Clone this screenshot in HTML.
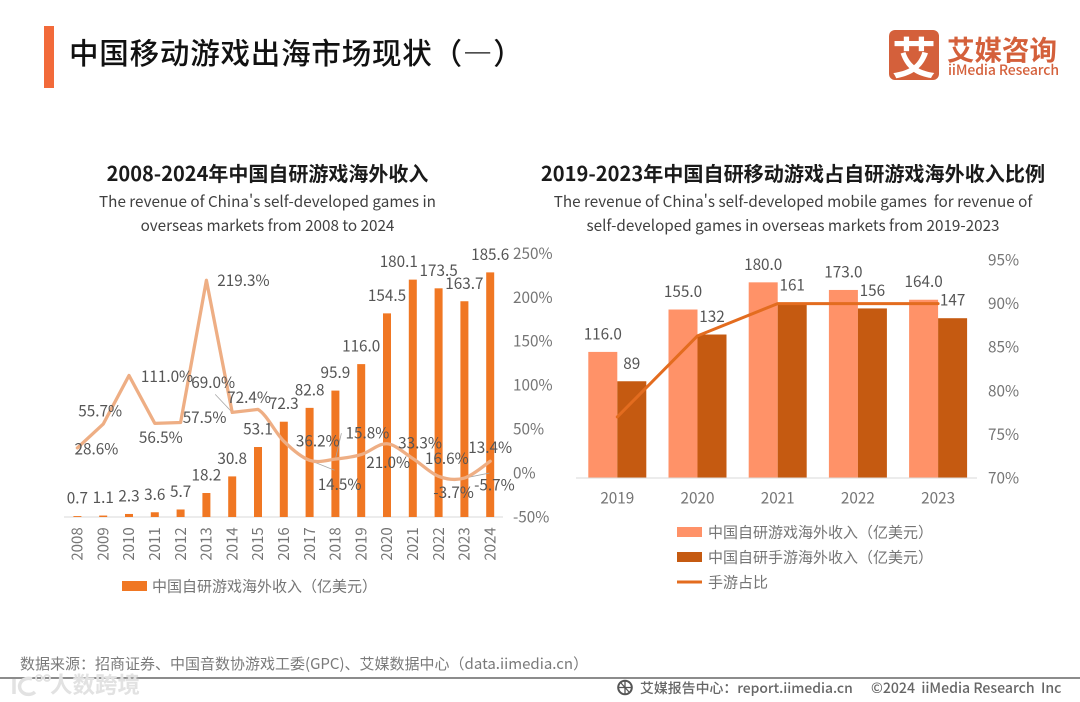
<!DOCTYPE html>
<html lang="zh">
<head>
<meta charset="utf-8">
<title>中国移动游戏出海市场现状（一）</title>
<style>
html,body{margin:0;padding:0;background:#fff;}
#page{position:relative;width:1080px;height:702px;overflow:hidden;background:#fff;font-family:"Noto Sans CJK SC","Liberation Sans",sans-serif;}
#page div{position:absolute;white-space:pre;}
svg{position:absolute;left:0;top:0;}
svg text{font-family:"Noto Sans CJK SC","Liberation Sans",sans-serif;}
</style>
</head>
<body>
<div id="page">
  <div style="left:44px;top:26px;width:10px;height:62px;background:#F26A3A;"></div>
  <div style="left:69px;top:31px;font-size:29.5px;line-height:42px;font-weight:500;color:#111;letter-spacing:0.8px;">中国移动游戏出海市场现状（—）</div>

  <div style="left:889px;top:30px;width:50px;height:50px;border-radius:6px;background:#D4603B;color:#fff;font-size:44px;line-height:50px;font-weight:700;text-align:center;">艾</div>
  <div style="left:947px;top:28px;font-size:27.5px;line-height:40px;font-weight:700;color:#D4603B;">艾媒咨询</div>
  <div style="left:948px;top:60px;font-size:14px;line-height:20px;font-weight:500;color:#D4603B;letter-spacing:-0.1px;">iiMedia Research</div>

  <div style="left:0;top:158px;width:535px;text-align:center;font-size:20px;line-height:30px;font-weight:700;color:#1a1a1a;">2008-2024年中国自研游戏海外收入</div>
  <div style="left:0;top:189px;width:535px;text-align:center;font-size:15.25px;line-height:24px;color:#404040;">The revenue of China's self-developed games in
overseas markets from 2008 to 2024</div>
  <div style="left:493px;top:158px;width:600px;text-align:center;font-size:20.1px;line-height:30px;font-weight:700;color:#1a1a1a;">2019-2023年中国自研移动游戏占自研游戏海外收入比例</div>
  <div style="left:493px;top:189px;width:600px;text-align:center;font-size:15.25px;line-height:24px;color:#404040;">The revenue of China's self-developed mobile games  for revenue of
self-developed games in overseas markets from 2019-2023</div>

  <svg id="chart" width="1080" height="702" viewBox="0 0 1080 702"></svg>

  <div style="left:20px;top:654px;font-size:15px;line-height:20px;color:#7a7a7a;">数据来源：招商证券、中国音数协游戏工委(GPC)、艾媒数据中心（data.iimedia.cn）</div>
  <div style="left:0;top:677px;width:1080px;height:2px;background:#8c8c8c;"></div>
  <svg width="46" height="26" viewBox="0 0 46 26" style="left:8px;top:672px;">
    <path d="M6 7V22M24 7a9 8 0 1 0 3 13" fill="none" stroke="#e2e2e2" stroke-width="3.500"></path>
    <circle cx="31" cy="6" r="3" fill="none" stroke="#e2e2e2" stroke-width="1.800"></circle>
    <circle cx="39" cy="6" r="3" fill="none" stroke="#e2e2e2" stroke-width="1.800"></circle>
  </svg>
  <div style="left:50px;top:671px;font-size:22.5px;line-height:26px;font-weight:700;color:#e2e2e2;text-shadow:0 0 1px #fff;">人数跨境</div>
  <svg width="20" height="20" viewBox="0 0 20 20" style="left:616px;top:678px;">
    <circle cx="9" cy="9.500" r="6.800" fill="none" stroke="#555" stroke-width="2"></circle>
    <path d="M2.500 9.500H15M9 3V16M5 5l8 9" fill="none" stroke="#555" stroke-width="1.300"></path>
  </svg>
  <div style="left:640px;top:678px;font-size:13.9px;line-height:20px;font-weight:500;color:#666;">艾媒报告中心：report.iimedia.cn</div>
  <div style="left:871px;top:678px;font-size:14.1px;line-height:20px;font-weight:500;color:#666;">©2024  iiMedia Research  Inc</div>
</div>

<script>
const leftYears = ['2008','2009','2010','2011','2012','2013','2014','2015','2016','2017','2018','2019','2020','2021','2022','2023','2024'];
const leftRevenue = [0.7,1.1,2.3,3.6,5.7,18.2,30.8,53.1,72.3,82.8,95.9,116.0,154.5,180.1,173.5,163.7,185.6];
const leftGrowth = [28.6,55.7,111.0,56.5,57.5,219.3,69.0,72.4,36.2,14.5,15.8,21.0,33.3,16.6,-3.7,-5.7,13.4];
const leftGrowthTicks = [-50,0,50,100,150,200,250];

const rightYears = ['2019','2020','2021','2022','2023'];
const rightTotal = [116.0,155.0,180.0,173.0,164.0];
const rightMobile = [89,132,161,156,147];
const rightShare = [77.0,86.3,90.0,90.0,90.0];
const rightShareTicks = [70,75,80,85,90,95];

/* label nudges relative to each mark (layout, not data) */
const growthLabelNudge = [[19,1],[-3,-13],[38,1],[6,14],[24,-5],[37,0],[-19,-30],[-9,-12],[34,0],[30,24],[32,-26],[27,8],[33,-1],[34,0],[15,16],[30,7],[0,-14]];

const svg = document.getElementById('chart');
const NS = 'http://www.w3.org/2000/svg';
function make(tag, props, parent) {
  const el = document.createElementNS(NS, tag);
  for (const k in props) el.setAttribute(k, props[k]);
  (parent || svg).appendChild(el);
  return el;
}
function write(x, y, str, size, fill, anchor) {
  const t = make('text', {x: x, y: y + size * 0.36, 'font-size': size, fill: fill, 'text-anchor': anchor || 'middle'});
  t.textContent = str;
  return t;
}

/* ---------- left chart axes ---------- */
const L_BASE = 517;
const leftX = i => 77.4 + i * 25.8;
const leftBarY = v => L_BASE - v * 1.318;
const leftLineY = v => L_BASE - (v + 50) * 0.879;
const LABEL = '#555555';
const AXIS = '#757575';
const VALUE_SIZE = 15.3;

/* straight segments up to the peak years, gently smoothed from 2015 onward */
function growthPath(vals) {
  const pts = vals.map((v, i) => [leftX(i), leftLineY(v)]);
  let d = 'M' + pts[0][0] + ' ' + pts[0][1];
  for (let i = 1; i < pts.length; i++) {
    if (i < 8) { d += 'L' + pts[i][0] + ' ' + pts[i][1]; continue; }
    const p0 = pts[i - 2], p1 = pts[i - 1], p2 = pts[i], p3 = pts[i + 1] || pts[i];
    const k = 1 / 6;
    d += 'C' + (p1[0] + (p2[0] - p0[0]) * k) + ' ' + (p1[1] + (p2[1] - p0[1]) * k) + ' ' +
         (p2[0] - (p3[0] - p1[0]) * k) + ' ' + (p2[1] - (p3[1] - p1[1]) * k) + ' ' + p2[0] + ' ' + p2[1];
  }
  return d;
}

const leftAxis = make('line', {x1: 64, x2: 503, y1: L_BASE, y2: L_BASE, stroke: '#d9d9d9', 'stroke-width': 1});



leftYears.forEach((yr, i) => {
  const t = make('text', {'font-size': 15, fill: AXIS, 'text-anchor': 'middle', transform: 'translate(' + (leftX(i) + 5.2) + ' 544) rotate(-90)'});
  t.textContent = yr;
  
  
});
leftGrowthTicks.forEach(v => {
  const t = write(513, leftLineY(v), v + '%', VALUE_SIZE, AXIS, 'start');
  
  
});

leftRevenue.forEach((v, i) => {
  const r = make('rect', {x: leftX(i) - 4, y: leftBarY(v), width: 8, height: L_BASE - leftBarY(v), fill: '#F07723'});
  
  
});

/* leader lines from growth labels back to their points */
[[6, -17, -18], [9, 25, 10], [10, 6, -26], [15, 25, -5]].forEach(n => {
  const px = leftX(n[0]), py = leftLineY(leftGrowth[n[0]]);
  const g = make('line', {x1: px, y1: py, x2: px + n[1], y2: py + n[2], stroke: '#a6a6a6', 'stroke-width': 0.8});
  
  
});

const growthLine = make('path', {
  d: growthPath(leftGrowth),
  fill: 'none', stroke: '#EEAE84', 'stroke-width': 3.3, 'stroke-linejoin': 'round', 'stroke-linecap': 'round'
});



leftRevenue.forEach((v, i) => {
  const dx = i === 13 ? -14 : 0;
  const t = write(leftX(i) + dx, leftBarY(v) - 18, v.toFixed(1), VALUE_SIZE, LABEL);
  
  
});
leftGrowth.forEach((v, i) => {
  const n = growthLabelNudge[i];
  const t = write(leftX(i) + n[0], leftLineY(v) + n[1], v.toFixed(1) + '%', VALUE_SIZE, LABEL);
  
  
});

const leftSwatch = make('rect', {x: 122, y: 581, width: 25, height: 10, fill: '#F07723'});


const leftLegend = write(152, 586, '中国自研游戏海外收入（亿美元）', 15, AXIS, 'start');



/* ---------- right chart axes ---------- */
const R_BASE = 478;
const rightX = i => 617.3 + i * 80.2;
const rightBarY = v => R_BASE - v * 1.087;
const rightLineY = v => R_BASE - (v - 70) * 8.72;
const R_BAR = 29;

rightYears.forEach((yr, i) => {
  const a = make('rect', {x: rightX(i) - R_BAR, y: rightBarY(rightTotal[i]), width: R_BAR, height: R_BASE - rightBarY(rightTotal[i]), fill: '#FF9268'});
  
  
  const b = make('rect', {x: rightX(i), y: rightBarY(rightMobile[i]), width: R_BAR, height: R_BASE - rightBarY(rightMobile[i]), fill: '#C55A11'});
  
  
  const la = write(rightX(i) - R_BAR / 2, rightBarY(rightTotal[i]) - 18, rightTotal[i].toFixed(1), VALUE_SIZE, LABEL);
  
  
  const lb = write(rightX(i) + R_BAR / 2, rightBarY(rightMobile[i]) - 18, String(rightMobile[i]), VALUE_SIZE, LABEL);
  
  
  const tk = write(rightX(i), 498, yr, VALUE_SIZE, AXIS);
  
  
});

const rightAxis = make('line', {x1: 576, x2: 977, y1: R_BASE, y2: R_BASE, stroke: '#d9d9d9', 'stroke-width': 1});



rightShareTicks.forEach(v => {
  const t = write(988, rightLineY(v), v + '%', VALUE_SIZE, AXIS, 'start');
  
  
});

const shareLine = make('polyline', {
  points: rightShare.map((v, i) => rightX(i) + ',' + rightLineY(v)).join(' '),
  fill: 'none', stroke: '#E36C1F', 'stroke-width': 3, 'stroke-linejoin': 'round', 'stroke-linecap': 'round'
});



const sw1 = make('rect', {x: 677, y: 527, width: 25, height: 10, fill: '#FF9268'});


const lg1 = write(708, 532, '中国自研游戏海外收入（亿美元）', 15, AXIS, 'start');


const sw2 = make('rect', {x: 677, y: 552, width: 25, height: 10, fill: '#C55A11'});


const lg2 = write(708, 557, '中国自研手游海外收入（亿美元）', 15, AXIS, 'start');


const sw3 = make('line', {x1: 677, x2: 702, y1: 582, y2: 582, stroke: '#E36C1F', 'stroke-width': 3});


const lg3 = write(708, 582, '手游占比', 15, AXIS, 'start');


</script>
</body>
</html>
